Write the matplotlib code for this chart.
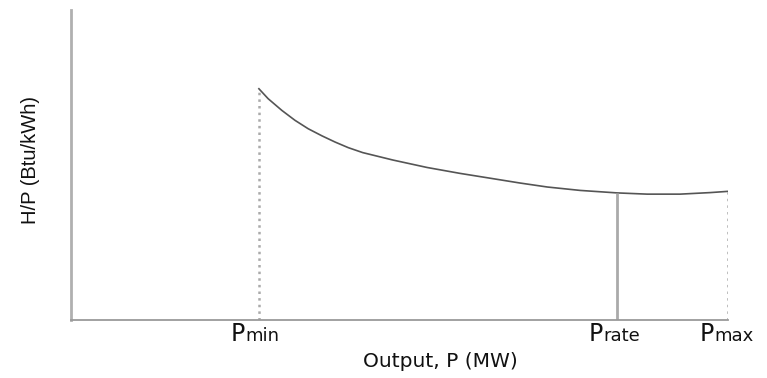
import matplotlib
matplotlib.use('Agg')
import matplotlib.pyplot as plt

# heat-rate curve (x: output in % of axis, y: H/P in % of axis)
output_p = [28.6, 30.0, 32.1, 34.1, 36.1, 38.2, 40.2, 42.2, 44.4, 49.0, 54.2,
            59.2, 64.2, 68.3, 72.5, 77.5, 83.1, 87.7, 92.7, 97.3, 100.0]
heat_rate = [74.6, 71.4, 67.6, 64.4, 61.7, 59.4, 57.4, 55.6, 54.0, 51.6, 49.2,
             47.3, 45.6, 44.2, 42.9, 41.8, 41.0, 40.6, 40.6, 41.1, 41.5]

# marked outputs
marks = ['min', 'rate', 'max']
mark_x = [28.6, 83.1, 100.0]
mark_y = [74.6, 41.0, 41.5]
mark_style = [':', '-', ':']


def draw():
    fig = plt.figure(figsize=(7.67, 3.78), dpi=100)
    ax = fig.add_axes([71 / 767, 58 / 378, 657 / 767, 310 / 378])

    ax.plot(output_p, heat_rate, color='#555555', lw=1.2)

    for x, y, ls in zip(mark_x, mark_y, mark_style):
        ax.vlines(x, 0, y, colors='#aaaaaa', linestyles=ls, lw=2 if ls == '-' else 1.8)

    # P with smaller suffix on the same baseline
    for name, x in zip(marks, mark_x):
        ax.annotate('P', (x, 0), xytext=(-14, -21), textcoords='offset pixels',
                    ha='right', va='baseline', fontsize=17, color='#111111',
                    annotation_clip=False)
        ax.annotate(name, (x, 0), xytext=(-14, -21), textcoords='offset pixels',
                    ha='left', va='baseline', fontsize=13, color='#111111',
                    annotation_clip=False)

    ax.set_xlim(0, 100)
    ax.set_ylim(0, 100)
    ax.set_xticks([])
    ax.set_yticks([])
    for s in ['top', 'right']:
        ax.spines[s].set_visible(False)
    ax.spines['left'].set_color('#b0b0b0')
    ax.spines['left'].set_linewidth(2)
    ax.spines['bottom'].set_color('#9a9a9a')
    ax.spines['bottom'].set_linewidth(1.3)

    ax.set_xlabel('Output, P (MW)', fontsize=14.5, color='#111111')
    ax.xaxis.label.set_verticalalignment('center')
    ax.xaxis.set_label_coords(0.562, -0.135)

    ax.set_ylabel('H/P (Btu/kWh)', fontsize=14.5, color='#111111',
                  family=['Liberation Sans', 'DejaVu Sans'])
    ax.yaxis.label.set_verticalalignment('center')
    ax.yaxis.set_label_coords(-0.061, 0.516)

    fig.savefig('out.png', dpi=100)


if __name__ == '__main__':
    draw()
